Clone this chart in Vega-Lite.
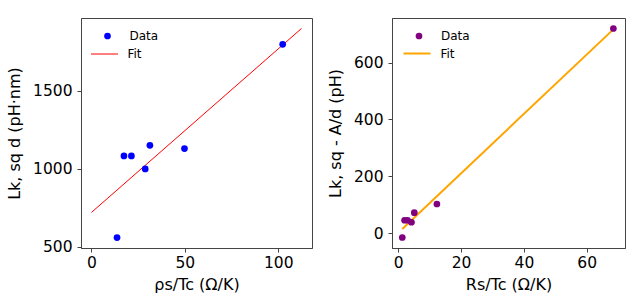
{
  "$schema": "https://vega.github.io/schema/vega-lite/v6.json",
  "padding": {"left": 6, "top": 17, "right": 5, "bottom": 5},
  "background": "white",
  "spacing": 13,
  "datasets": {
    "left_points": [
      {"x": 13.7, "y": 560, "kind": "Data"},
      {"x": 17.4, "y": 1083, "kind": "Data"},
      {"x": 21.4, "y": 1083, "kind": "Data"},
      {"x": 28.8, "y": 1000, "kind": "Data"},
      {"x": 31.3, "y": 1151, "kind": "Data"},
      {"x": 49.8, "y": 1130, "kind": "Data"},
      {"x": 102.4, "y": 1798, "kind": "Data"}
    ],
    "left_fit": [
      {"x": 0, "y": 721, "curve": "Fit"},
      {"x": 112.5, "y": 1900, "curve": "Fit"}
    ],
    "right_points": [
      {"x": 1.27, "y": -15, "kind": "Data"},
      {"x": 2.0, "y": 45.6, "kind": "Data"},
      {"x": 2.96, "y": 45.6, "kind": "Data"},
      {"x": 4.2, "y": 38.6, "kind": "Data"},
      {"x": 5.1, "y": 72.3, "kind": "Data"},
      {"x": 12.3, "y": 102.8, "kind": "Data"},
      {"x": 68.5, "y": 720, "kind": "Data"}
    ],
    "right_fit": [
      {"x": 1.27, "y": 15, "curve": "Fit"},
      {"x": 68.5, "y": 717, "curve": "Fit"}
    ]
  },
  "hconcat": [
    {
      "width": 231,
      "height": 230,
      "layer": [
        {
          "data": {"name": "left_fit"},
          "mark": {"type": "line", "strokeWidth": 1},
          "encoding": {
            "x": {"field": "x", "type": "quantitative", "scale": {"domain": [-5.6, 118.1], "nice": false, "zero": false}, "axis": {"values": [0, 50, 100], "format": "d", "title": "ρs/Tc (Ω/K)"}},
            "y": {"field": "y", "type": "quantitative", "scale": {"domain": [493, 1967], "nice": false, "zero": false}, "axis": {"values": [500, 1000, 1500], "format": "d", "title": "Lk, sq d (pH·nm)"}},
            "stroke": {"field": "curve", "type": "nominal", "scale": {"domain": ["Fit"], "range": ["#ff0000"]},
              "legend": {"title": null, "orient": "none", "legendX": 9.5, "legendY": 22, "padding": 0, "symbolType": "stroke", "symbolSize": 729, "symbolStrokeWidth": 1, "labelOffset": 9, "labelFontSize": 12, "labelColor": "black", "labelFont": "DejaVu Sans"}}
          }
        },
        {
          "data": {"name": "left_points"},
          "mark": {"type": "point", "filled": true, "size": 45, "opacity": 1},
          "encoding": {
            "x": {"field": "x", "type": "quantitative", "scale": {"domain": [-5.6, 118.1], "nice": false, "zero": false}},
            "y": {"field": "y", "type": "quantitative", "scale": {"domain": [493, 1967], "nice": false, "zero": false}},
            "fill": {"field": "kind", "type": "nominal", "scale": {"domain": ["Data"], "range": ["#0000ff"]},
              "legend": {"title": null, "orient": "none", "legendX": 10, "legendY": 12, "padding": 0, "symbolType": "circle", "symbolSize": 45, "symbolOffset": 10.5, "labelOffset": 16, "labelFontSize": 12, "labelColor": "black", "labelFont": "DejaVu Sans"}}
          }
        }
      ]
    },
    {
      "width": 233,
      "height": 230,
      "layer": [
        {
          "data": {"name": "right_fit"},
          "mark": {"type": "line", "strokeWidth": 2},
          "encoding": {
            "x": {"field": "x", "type": "quantitative", "scale": {"domain": [-2.0, 72.2], "nice": false, "zero": false}, "axis": {"values": [0, 20, 40, 60], "format": "d", "title": "Rs/Tc (Ω/K)"}},
            "y": {"field": "y", "type": "quantitative", "scale": {"domain": [-52, 757], "nice": false, "zero": false}, "axis": {"values": [0, 200, 400, 600], "format": "d", "title": "Lk, sq - A/d (pH)"}},
            "stroke": {"field": "curve", "type": "nominal", "scale": {"domain": ["Fit"], "range": ["#ffa500"]},
              "legend": {"title": null, "orient": "none", "legendX": 10.5, "legendY": 21, "padding": 0, "symbolType": "stroke", "symbolSize": 729, "symbolStrokeWidth": 2, "labelOffset": 9, "labelFontSize": 12, "labelColor": "black", "labelFont": "DejaVu Sans"}}
          }
        },
        {
          "data": {"name": "right_points"},
          "mark": {"type": "point", "filled": true, "size": 45, "opacity": 1},
          "encoding": {
            "x": {"field": "x", "type": "quantitative", "scale": {"domain": [-2.0, 72.2], "nice": false, "zero": false}},
            "y": {"field": "y", "type": "quantitative", "scale": {"domain": [-52, 757], "nice": false, "zero": false}},
            "fill": {"field": "kind", "type": "nominal", "scale": {"domain": ["Data"], "range": ["#800080"]},
              "legend": {"title": null, "orient": "none", "legendX": 10.5, "legendY": 12, "padding": 0, "symbolType": "circle", "symbolSize": 45, "symbolOffset": 10.5, "labelOffset": 16, "labelFontSize": 12, "labelColor": "black", "labelFont": "DejaVu Sans"}}
          }
        }
      ]
    }
  ],
  "resolve": {
    "scale": {"x": "independent", "y": "independent", "fill": "independent", "stroke": "independent"},
    "legend": {"fill": "independent", "stroke": "independent"}
  },
  "config": {
    "font": "DejaVu Sans",
    "view": {"stroke": "#444444", "strokeWidth": 1},
    "axis": {
      "grid": false,
      "domain": true,
      "domainColor": "#444444",
      "tickColor": "#444444",
      "tickSize": 4,
      "labelFont": "DejaVu Sans",
      "labelFontSize": 15.5,
      "labelColor": "black",
      "labelPadding": 3,
      "titleFont": "DejaVu Sans",
      "titleFontSize": 16,
      "titleFontWeight": "normal",
      "titleColor": "black",
      "titlePadding": 6
    },
    "axisY": {"labelPadding": 5, "titlePadding": 10}
  }
}
